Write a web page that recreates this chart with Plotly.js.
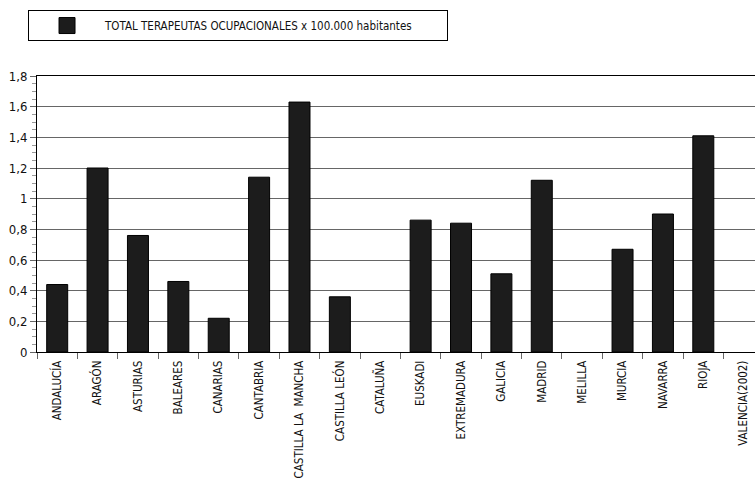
<!DOCTYPE html>
<html>
<head>
<meta charset="utf-8">
<script src="https://cdn.plot.ly/plotly-3.0.1.min.js"></script>
<style>html,body{margin:0;padding:0;overflow:hidden;background:#fff}</style>
</head>
<body>
<div id="chart" style="width:755px;height:480px"></div>
<script>
const regions = ["ANDALUCÍA","ARAGÓN","ASTURIAS","BALEARES","CANARIAS","CANTABRIA","CASTILLA LA  MANCHA","CASTILLA LEÓN","CATALUÑA","EUSKADI","EXTREMADURA","GALICIA","MADRID","MELILLA","MURCIA","NAVARRA","RIOJA","VALENCIA(2002)"];
const values = [0.44,1.20,0.76,0.46,0.22,1.14,1.63,0.36,null,0.86,0.84,0.51,1.12,null,0.67,0.90,1.41,null];
const seriesName = "TOTAL TERAPEUTAS OCUPACIONALES x 100.000 habitantes";

const FONT = '"DejaVu Sans Condensed","Liberation Sans Narrow",sans-serif';

const bars = {
  type: 'bar',
  x: regions,
  y: values,
  name: seriesName,
  marker: {color: '#1c1c1c', line: {color: '#000', width: 1}},
  showlegend: false
};

// legend entry for the bar series (larger square symbol)
const legendEntry = {
  type: 'scatter', mode: 'markers',
  x: [regions[0]], y: [null],
  name: seriesName,
  marker: {symbol: 'square', size: 16, color: '#1c1c1c', line: {color: '#000', width: 1}},
  showlegend: true, hoverinfo: 'skip'
};

const layout = {
  width: 755, height: 480,
  margin: {l: 37, r: 0, t: 76, b: 128},
  paper_bgcolor: '#fff', plot_bgcolor: '#fff',
  font: {family: FONT, size: 12, color: '#111'},
  bargap: 0.48,
  showlegend: true,
  legend: {
    orientation: 'h',
    x: -0.0125, xanchor: 'left', y: 1.239, yanchor: 'top',
    bordercolor: '#000', borderwidth: 1,
    font: {family: FONT, size: 11.5, color: '#111'},
    entrywidth: 337, entrywidthmode: 'pixels',
    itemwidth: 66, itemsizing: 'trace'
  },
  xaxis: {
    type: 'category',
    range: [-0.5, 17.28],
    tickangle: -90,
    ticks: 'outside', ticklen: 6, tickcolor: '#666', tickson: 'boundaries',
    ticklabelstandoff: 3,
    showline: true, linecolor: '#000', linewidth: 1, mirror: true,
    showgrid: false,
    tickfont: {family: FONT, size: 11.5, color: '#111'}
  },
  yaxis: {
    range: [0, 1.8], dtick: 0.2,
    ticks: 'outside', ticklen: 6, tickcolor: '#666',
    showline: true, linecolor: '#000', linewidth: 1,
    showgrid: true, gridcolor: '#666', gridwidth: 1,
    zeroline: false,
    tickfont: {family: FONT, size: 13, color: '#111'},
    minor: {dtick: 0.05, ticks: 'outside', ticklen: 4, tickcolor: '#999', showgrid: false}
  },
  separators: ',.'
};

Plotly.newPlot('chart', [bars, legendEntry], layout, {displayModeBar: false, staticPlot: true});
</script>
</body>
</html>
